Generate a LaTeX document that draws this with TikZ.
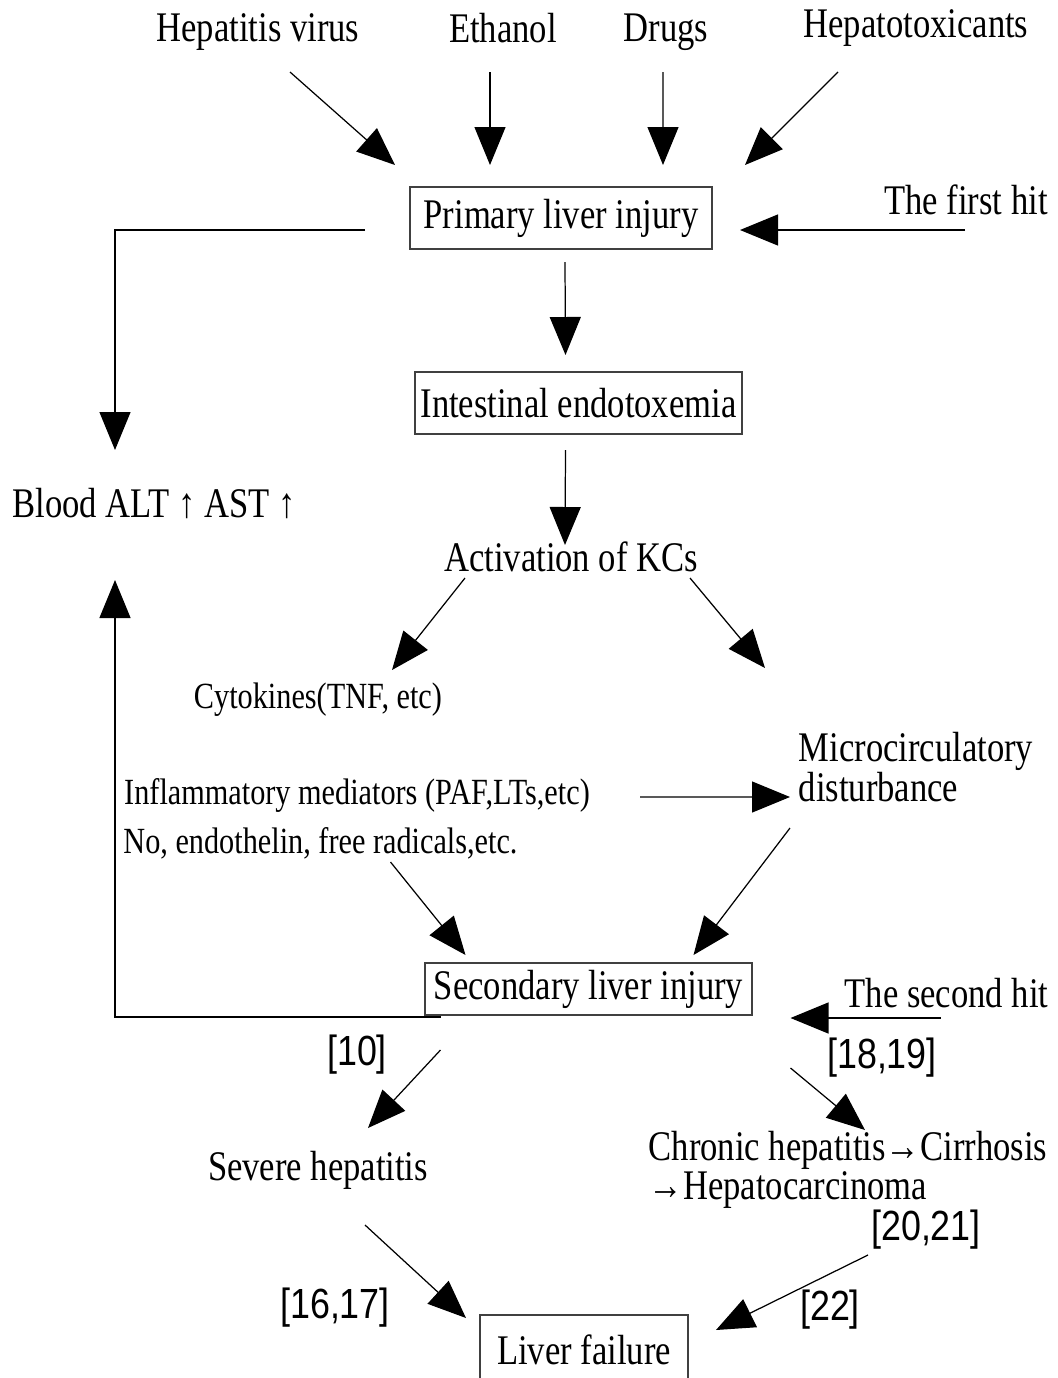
\documentclass[tikz,border=0pt]{standalone}
\usepackage{fontspec}
\setmainfont[FakeStretch=0.82]{Liberation Serif}
\newfontfamily\citefont[FakeStretch=0.85]{Liberation Sans}
\usetikzlibrary{arrows.meta}
\begin{document}
\begin{tikzpicture}[
   every node/.style={inner sep=0pt,font=\fontsize{24}{20}\selectfont},
   box/.style={draw=black!75,line width=0.8pt,minimum height=1.24cm},
   small/.style={font=\fontsize{21}{20}\selectfont},
   cite/.style={font=\citefont\fontsize{24}{24}\selectfont},
   arr/.style={-{Triangle[length=0.76cm,width=0.62cm]},line width=0.7pt}]
   \useasboundingbox (0,0) rectangle (21.16,-27.56);
   \node (hv)  at (5.16,-0.64) {Hepatitis virus};
   \node (eth) at (10.06,-0.56) {Ethanol};
   \node (drg) at (13.32,-0.64) {Drugs};
   \node (htx) at (18.32,-0.56) {Hepatotoxicants};
   \node (pli) [box,minimum width=6.04cm] at (11.22,-4.36) {Primary liver injury};
   \node (fh)  at (19.32,-4.0) {The first hit};
   \node (blood) at (3.08,-10.06) {Blood ALT ↑ AST ↑};
   \node (ie)  [box,minimum width=6.54cm] at (11.57,-8.06) {Intestinal endotoxemia};
   \node (akc) at (11.42,-11.14) {Activation of KCs};
   \node (cyt) [small] at (6.36,-14.0) {Cytokines(TNF, etc)};
   \node (mcd) [align=left] at (18.32,-15.34) {Microcirculatory\\disturbance};
   \node (inf) [small] at (7.14,-15.9) {Inflammatory mediators (PAF,LTs,etc)};
   \node (no)  [small] at (6.41,-16.86) {No, endothelin, free radicals,etc.};
   \node (sli) [box,minimum width=6.54cm,minimum height=1.04cm] at (11.77,-19.78) {Secondary liver injury};
   \node (sh)  at (18.93,-19.86) {The second hit};
   \node (r10) [cite] at (7.14,-21.1) {[10]};
   \node (r1819) [cite] at (17.64,-21.16) {[18,19]};
   \node (sev) at (6.36,-23.4) {Severe hepatitis};
   \node (chr) [align=left] at (16.96,-23.4) {Chronic hepatitis→Cirrhosis\\→Hepatocarcinoma};
   \node (r2021) [cite] at (18.52,-24.6) {[20,21]};
   \node (r1617) [cite] at (6.7,-26.16) {[16,17]};
   \node (r22) [cite] at (16.6,-26.2) {[22]};
   \node (lf)  [box,minimum width=4.16cm,minimum height=1.4cm] at (11.68,-27.0) {Liver failure};
   \draw[arr] ([shift={(0.64,-0.8)}]hv.center) -- ([shift={(-3.32,1.06)}]pli.center);
   \draw[arr] ([shift={(-0.26,-0.88)}]eth.center) -- ([shift={(-1.42,1.06)}]pli.center);
   \draw[arr] ([shift={(-0.06,-0.8)}]drg.center) -- ([shift={(2.04,1.06)}]pli.center);
   \draw[arr] ([shift={(-1.56,-0.88)}]htx.center) -- ([shift={(3.68,1.06)}]pli.center);
   \draw[arr] ([shift={(-0.02,-0.6)}]fh.center) -- ([shift={(3.58,-0.24)}]pli.center);
   \draw[arr] ([shift={(-3.92,-0.24)}]pli.center) -| ([shift={(-0.78,1.06)}]blood.center);
   \draw[arr] ([shift={(0.08,-0.88)}]pli.center) -- ([shift={(-0.26,0.96)}]ie.center);
   \draw[arr] ([shift={(-0.26,-0.94)}]ie.center) -- ([shift={(-0.12,0.24)}]akc.center);
   \draw[arr] ([shift={(-2.12,-0.42)}]akc.center) -- ([shift={(1.48,0.6)}]cyt.center);
   \draw[arr] ([shift={(2.38,-0.42)}]akc.center) -- ([shift={(-3.02,1.98)}]mcd.center);
   \draw[arr] ([shift={(5.66,-0.04)}]inf.center) -- ([shift={(-2.52,-0.6)}]mcd.center);
   \draw[arr] ([shift={(1.4,-0.38)}]no.center) -- ([shift={(-2.46,0.68)}]sli.center);
   \draw[arr] ([shift={(-2.52,-1.22)}]mcd.center) -- ([shift={(2.1,0.68)}]sli.center);
   \draw[arr] ([shift={(-2.96,-0.56)}]sli.center) -| ([shift={(-0.78,-1.54)}]blood.center);
   \draw[arr] ([shift={(-0.12,-0.5)}]sh.center) -- ([shift={(4.04,-0.58)}]sli.center);
   \draw[arr] ([shift={(-2.96,-1.22)}]sli.center) -- ([shift={(1.0,0.84)}]sev.center);
   \draw[arr] ([shift={(4.04,-1.58)}]sli.center) -- ([shift={(0.34,0.8)}]chr.center);
   \draw[arr] ([shift={(0.94,-1.1)}]sev.center) -- ([shift={(-2.36,0.64)}]lf.center);
   \draw[arr] ([shift={(0.4,-1.7)}]chr.center) -- ([shift={(2.64,0.4)}]lf.center);
\end{tikzpicture}
\end{document}
